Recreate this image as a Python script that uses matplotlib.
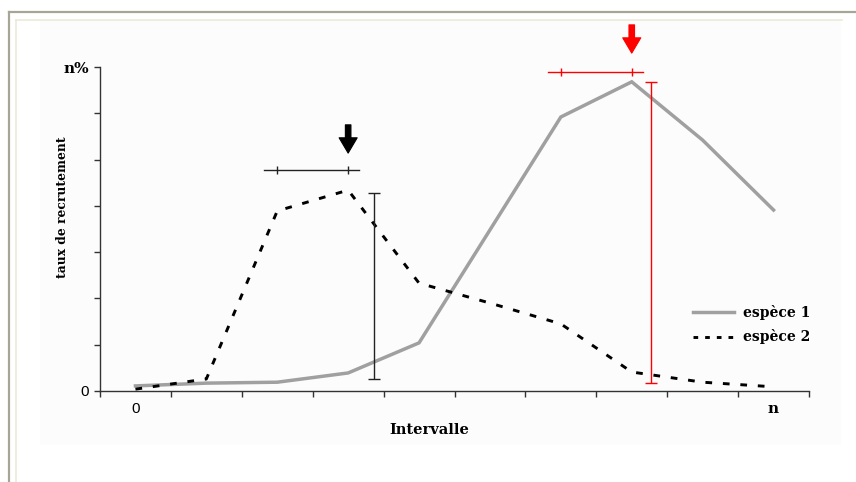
import matplotlib
matplotlib.use("Agg")
import matplotlib.pyplot as plt
from matplotlib.lines import Line2D
from matplotlib.patches import Rectangle

# data (y in % of the axis top "n%" = 70)
intervals = list(range(10))
espece_1 = [1.1, 1.7, 1.9, 3.9, 10.4, 34.8, 59.2, 66.8, 54.2, 39.1]
espece_2 = [0.4, 2.6, 38.9, 43.4, 23.3, 19.0, 14.5, 4.1, 1.9, 0.9]
x_labels = {0: "0", 9: "n"}
y_labels = {0: "0", 70: "n%"}

# spread marks drawn around each peak
spread_y = [47.7, 68.9]           # level of the horizontal bars
spread_x = [(1.81, 3.15), (5.82, 7.16)]
range_x = [3.36, 7.27]            # position of the vertical bars
range_y = [(2.6, 42.8), (1.7, 66.8)]
arrow_y = [(57.5, 51.4), (79.1, 73.0)]
mark_colors = ["#222222", "#ff0000"]

W, H = 856, 482
SERIF = "DejaVu Serif"
SANS = "Liberation Sans"

fig = plt.figure(figsize=(W / 100, H / 100), dpi=100)
fig.patch.set_facecolor("white")


def fx(px):
    return px / W


def fy(py):
    return 1 - py / H


# window-like frame around the chart
fig.add_artist(Rectangle((fx(40), fy(445)), fx(801), 425 / H, transform=fig.transFigure,
                         facecolor="#fcfcfc", edgecolor="none", zorder=0))
fig.add_artist(Line2D([fx(9), fx(856)], [fy(12), fy(12)], transform=fig.transFigure,
                      color="#a8a594", lw=1.6))
fig.add_artist(Line2D([fx(9), fx(9)], [fy(12), fy(482)], transform=fig.transFigure,
                      color="#a8a594", lw=1.6))
fig.add_artist(Line2D([fx(16), fx(842)], [fy(20), fy(20)], transform=fig.transFigure,
                      color="#ecead8", lw=1.2))
fig.add_artist(Line2D([fx(16), fx(16)], [fy(20), fy(482)], transform=fig.transFigure,
                      color="#ecead8", lw=1.2))

ax = fig.add_axes([fx(100), fy(391), 709 / W, 324 / H])
ax.set_facecolor("none")

ax.plot(intervals, espece_1, color="#a0a0a0", lw=2.5, solid_joinstyle="miter",
        label="espèce 1", zorder=3)
ax.plot(intervals, espece_2, color="black", lw=2.1, dashes=(2.3, 3.7),
        label="espèce 2", zorder=3)

peaks = [espece_2.index(max(espece_2)), espece_1.index(max(espece_1))]
for i in range(2):
    c = mark_colors[i]
    p = peaks[i]
    ax.plot(spread_x[i], [spread_y[i]] * 2, color=c, lw=1.0, zorder=4)
    ax.plot([p - 1, p], [spread_y[i]] * 2, ls="none", marker="|", ms=6,
            mew=1.0, color=c, zorder=4)
    ax.errorbar([range_x[i]], [sum(range_y[i]) / 2],
                yerr=[[(range_y[i][1] - range_y[i][0]) / 2]],
                fmt="none", ecolor=c, elinewidth=1.0, capsize=4, capthick=1.0, zorder=4)
    ax.annotate("", xy=(p, arrow_y[i][1]), xytext=(p, arrow_y[i][0]),
                annotation_clip=False,
                arrowprops=dict(arrowstyle="simple,head_width=1.3,head_length=1.1,tail_width=0.4",
                                color="black" if i == 0 else "#ff0000", lw=0.8,
                                shrinkA=0, shrinkB=0))

ax.set_xlim(-0.5, 9.5)
ax.set_ylim(0, 70)

for s in ["top", "right"]:
    ax.spines[s].set_visible(False)
for s in ["left", "bottom"]:
    ax.spines[s].set_color("#333333")
    ax.spines[s].set_linewidth(1.0)

ax.set_xticks([k - 0.5 for k in range(11)])
ax.set_xticklabels([])
ax.tick_params(axis="x", which="major", length=4, width=1, color="#333333")
ax.set_xticks(list(x_labels.keys()), minor=True)
ax.set_xticklabels(list(x_labels.values()), minor=True)
ax.tick_params(axis="x", which="minor", length=0, pad=8)
minor_labels = ax.get_xticklabels(minor=True)
minor_labels[0].set_fontfamily(SANS)
minor_labels[0].set_fontsize(11)
minor_labels[1].set_fontfamily(SERIF)
minor_labels[1].set_fontweight("bold")
minor_labels[1].set_fontsize(11)

ax.set_yticks(range(0, 71, 10))
ax.set_yticklabels([y_labels.get(v, "") for v in range(0, 71, 10)])
ax.tick_params(axis="y", length=4, width=1, color="#333333", pad=4)
ylabs = ax.get_yticklabels()
ylabs[0].set_fontfamily(SANS)
ylabs[0].set_fontsize(11)
ylabs[-1].set_fontfamily(SERIF)
ylabs[-1].set_fontweight("bold")
ylabs[-1].set_fontsize(11)

ax.set_ylabel("taux de recrutement", fontfamily=SERIF, fontweight="bold", fontsize=8.8)
ax.yaxis.set_label_coords(-0.044, 0.568)
ax.set_xlabel("Intervalle", fontfamily=SERIF, fontweight="bold", fontsize=10.5)
ax.xaxis.set_label_coords(0.464, -0.099)

handles = [Line2D([], [], color="#a0a0a0", lw=2.5),
           Line2D([], [], color="black", lw=2.1, dashes=(1.6, 2.4))]
ax.legend(handles, ["espèce 1", "espèce 2"], loc="center left",
          bbox_to_anchor=(0.836, 0.205), frameon=False, borderpad=0,
          borderaxespad=0, handlelength=3.0, handletextpad=0.6, labelspacing=0.7,
          prop={"family": SERIF, "weight": "bold", "size": 10})

fig.savefig("out.png", dpi=100)
